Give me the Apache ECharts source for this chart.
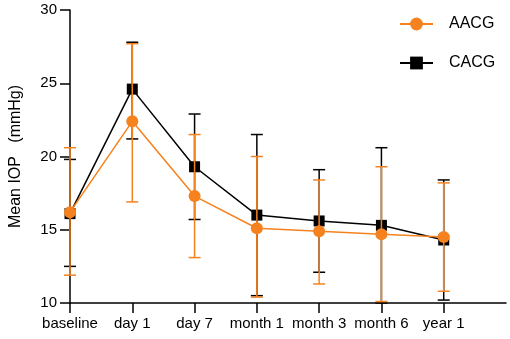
<!DOCTYPE html>
<html><head><meta charset="utf-8">
<script src="https://cdn.jsdelivr.net/npm/echarts@6/dist/echarts.min.js"></script>
<style>html,body{margin:0;padding:0;background:#fff}#c{width:510px;height:339px}</style>
</head><body><div id="c"></div>
<script>
const categories = ['baseline','day 1','day 7','month 1','month 3','month 6','year 1'];
const aacgMean  = [16.2, 22.4, 17.3, 15.1, 14.9, 14.7, 14.5];
const aacgUpper = [20.6, 27.7, 21.5, 20.0, 18.4, 19.3, 18.2];
const aacgLower = [11.9, 16.9, 13.1, 10.4, 11.3, 10.1, 10.8];
const cacgMean  = [16.1, 24.6, 19.3, 16.0, 15.6, 15.3, 14.3];
const cacgUpper = [19.8, 27.8, 22.9, 21.5, 19.1, 20.6, 18.4];
const cacgLower = [12.5, 21.2, 15.7, 10.5, 12.1, 10.0, 10.2];
const yTicks = [10, 15, 20, 25, 30];

const ORANGE = '#f5821f';
const BLACK = '#000000';
const FONT = 'Arial, "Liberation Sans", sans-serif';

function errData(lo, hi) { return lo.map((l, i) => [i, l, hi[i]]); }
function errRender(color) {
  return function (params, api) {
    const x = api.value(0);
    const lo = api.coord([x, api.value(1)]);
    const hi = api.coord([x, api.value(2)]);
    const w = 6;
    const st = { stroke: color, lineWidth: 1.5 };
    return { type: 'group', children: [
      { type: 'line', shape: { x1: hi[0], y1: hi[1], x2: lo[0], y2: lo[1] }, style: st },
      { type: 'line', shape: { x1: hi[0]-w, y1: hi[1], x2: hi[0]+w, y2: hi[1] }, style: st },
      { type: 'line', shape: { x1: lo[0]-w, y1: lo[1], x2: lo[0]+w, y2: lo[1] }, style: st }
    ]};
  };
}

const chart = echarts.init(document.getElementById('c'));
chart.setOption({
  animation: false,
  textStyle: { fontFamily: FONT },
  grid: { left: 67, right: 4, top: 10, bottom: 36 },
  legend: {
    orient: 'vertical', left: 394, top: 11, itemGap: 23,
    itemWidth: 33, itemHeight: 16,
    textStyle: { fontSize: 16, color: '#000', fontFamily: FONT, padding: [0, 0, 0, 11] },
    data: ['AACG', 'CACG']
  },
  xAxis: {
    type: 'category', boundaryGap: false,
    data: categories.concat(['']),
    axisLine: { lineStyle: { color: '#000', width: 1.5 } },
    axisTick: { length: 10, lineStyle: { color: '#000', width: 1.5 }, interval: (i) => i < categories.length },
    axisLabel: { color: '#000', fontSize: 15, margin: 13, interval: 0, fontFamily: FONT }
  },
  yAxis: {
    type: 'value', min: yTicks[0], max: yTicks[yTicks.length-1], interval: 5,
    name: 'Mean IOP   (mmHg)', nameLocation: 'middle', nameGap: 46,
    nameTextStyle: { color: '#000', fontSize: 16, fontFamily: FONT },
    splitLine: { show: false },
    axisLine: { show: true, lineStyle: { color: '#000', width: 1.5 } },
    axisTick: { show: true, length: 10, lineStyle: { color: '#000', width: 1.5 } },
    axisLabel: { color: '#000', fontSize: 15, margin: 13, fontFamily: FONT }
  },
  series: [
    { type: 'custom', name: 'CACG err', renderItem: errRender(BLACK), data: errData(cacgLower, cacgUpper), clip: false, z: 2, silent: true },
    { type: 'line', name: 'CACG', data: cacgMean, symbol: 'rect', symbolSize: 11,
      itemStyle: { color: BLACK }, lineStyle: { color: BLACK, width: 1.5 }, z: 3 },
    { type: 'custom', name: 'AACG err', renderItem: errRender(ORANGE), data: errData(aacgLower, aacgUpper), clip: false, z: 4, silent: true },
    { type: 'line', name: 'AACG', data: aacgMean, symbol: 'circle', symbolSize: 12,
      itemStyle: { color: ORANGE }, lineStyle: { color: ORANGE, width: 1.5 }, z: 5 }
  ]
});
</script></body></html>
